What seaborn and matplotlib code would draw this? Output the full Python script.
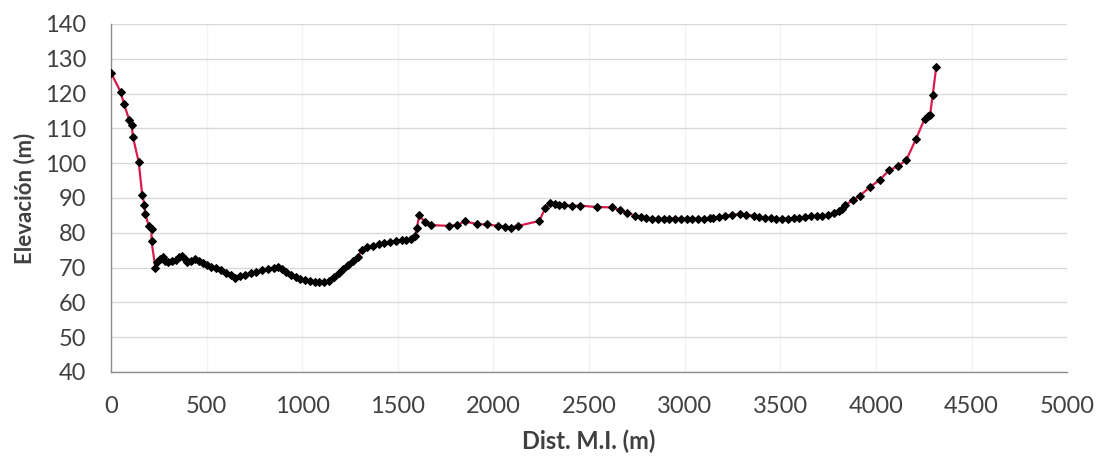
import matplotlib
matplotlib.use("Agg")
import matplotlib.pyplot as plt
import seaborn as sns
import pandas as pd

dist = [0, 50, 68, 95, 108, 115, 145, 163, 175, 178, 198, 212, 212, 232,
        240, 255, 270, 285, 300, 320, 340, 355, 370, 385, 400, 420, 440, 460, 480,
        500, 525, 550, 575, 600, 625, 650, 675, 700, 730, 760, 790, 820, 850, 875,
        895, 915, 940, 965, 990, 1015, 1040, 1065, 1090, 1115, 1140, 1165, 1190,
        1215, 1240, 1265, 1290, 1310, 1340, 1370, 1400, 1430, 1460, 1490, 1520,
        1545, 1570, 1590, 1600, 1612, 1640, 1675, 1765, 1810, 1850, 1912, 1965,
        2025, 2060, 2090, 2130, 2240, 2270, 2295, 2320, 2345, 2370, 2410, 2455,
        2540, 2620, 2660, 2700, 2740, 2770, 2800, 2830, 2860, 2890, 2920, 2950,
        2980, 3010, 3040, 3070, 3100, 3130, 3150, 3180, 3210, 3250, 3290, 3320,
        3360, 3390, 3420, 3450, 3480, 3510, 3540, 3570, 3600, 3630, 3660, 3690,
        3720, 3750, 3780, 3805, 3825, 3840, 3880, 3917, 3970, 4020, 4070, 4118,
        4160, 4210, 4255, 4270, 4283, 4297, 4315]
elev = [126, 120.5, 117, 112.5, 111, 107.5, 100.3, 91, 88, 85.5, 82, 81, 77.5, 70,
        71.5, 72.5, 73, 72, 71.5, 71.8, 72.3, 73, 73.2, 72.5, 71.5, 72, 72.5, 72, 71.2,
        70.8, 70.3, 69.8, 69.2, 68.5, 67.8, 67, 67.5, 68, 68.4, 68.8, 69.2, 69.6, 70, 70.3,
        69.5, 68.8, 67.8, 67.2, 66.7, 66.4, 66.2, 66, 65.8, 65.8, 66.2, 67.2, 68.5,
        69.5, 70.8, 71.8, 73, 75, 75.8, 76.3, 76.8, 77, 77.3, 77.5, 77.8,
        78, 78.3, 79, 81.5, 85, 83.2, 82.2, 82, 82.2, 83.3, 82.5, 82.4,
        82, 81.8, 81.5, 82, 83.4, 87, 88.5, 88.3, 88.1, 88, 87.8, 87.8,
        87.4, 87.3, 86.5, 85.8, 84.9, 84.5, 84.3, 84.1, 84.1, 84.1, 84.1, 84.1,
        84.1, 84.1, 84.1, 84.1, 84.1, 84.2, 84.3, 84.5, 84.9, 85.2, 85.4, 85.2,
        84.9, 84.6, 84.3, 84.2, 84.1, 84.1, 84.1, 84.2, 84.3, 84.5, 84.7, 84.9,
        84.9, 85.2, 85.6, 86.3, 86.8, 88, 89.4, 90.7, 93.2, 95.2, 98, 99.2,
        101, 107, 112.8, 113.5, 113.8, 119.5, 127.5]

x_ticks = [0, 500, 1000, 1500, 2000, 2500, 3000, 3500, 4000, 4500, 5000]
y_ticks = [40, 50, 60, 70, 80, 90, 100, 110, 120, 130, 140]

df = pd.DataFrame({"dist": dist, "elev": elev})

sns.set_style("white")
plt.rcParams["font.family"] = ["Lato", "DejaVu Sans"]

fig = plt.figure(figsize=(10.99, 4.57), dpi=100)
ax = fig.add_axes([0.101, 0.186, 0.870, 0.7615])

sns.lineplot(data=df, x="dist", y="elev", sort=False, estimator=None, ax=ax,
             color="#d81b4a", linewidth=1.6, marker="D", markersize=4,
             markerfacecolor="black", markeredgecolor="black", zorder=3)

ax.set_xlim(0, 5000)
ax.set_ylim(40, 140)
ax.set_xticks(x_ticks)
ax.set_yticks(y_ticks)
ax.set_xticklabels([str(t) for t in x_ticks], fontsize=17, color="#404040")
ax.set_yticklabels([str(t) for t in y_ticks], fontsize=17, color="#404040")
ax.grid(axis="y", color="#d9d9d9", linewidth=1.0)
ax.grid(axis="x", color="#f2f2f2", linewidth=1.0)
ax.set_axisbelow(True)

for s in ["top", "right"]:
    ax.spines[s].set_visible(False)
for s in ["left", "bottom"]:
    ax.spines[s].set_color("#8c8c8c")
    ax.spines[s].set_linewidth(1.0)
ax.tick_params(axis="both", direction="out", length=6, width=1, color="#8c8c8c")
ax.tick_params(axis="x", pad=11)
ax.tick_params(axis="y", pad=12)

ax.set_xlabel("Dist. M.I. (m)", fontsize=17, fontweight="bold", color="#404040", labelpad=9)
ax.set_ylabel("Elevación (m)", fontsize=16, fontweight="bold", color="#404040", labelpad=7)

fig.savefig("out.png", dpi=100, facecolor="white")
